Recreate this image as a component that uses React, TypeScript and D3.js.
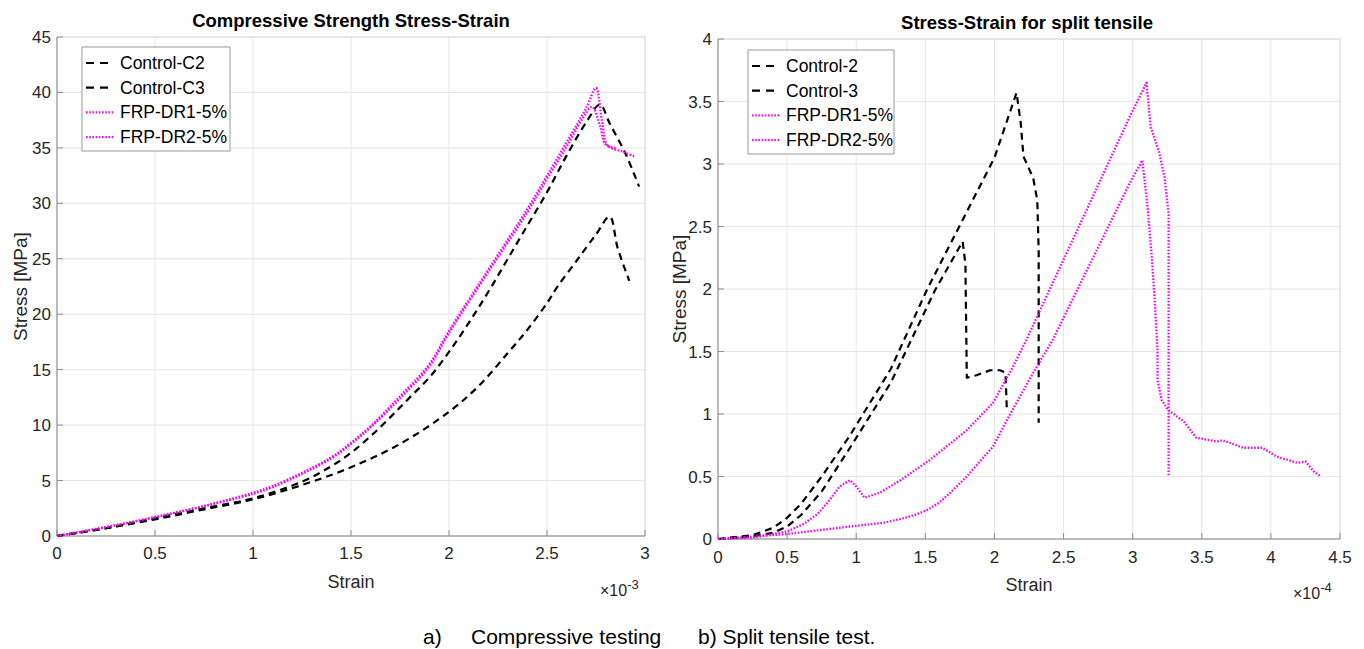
import React, { useRef, useEffect } from 'react';
import * as d3 from 'd3';

// strain (x1e-3), stress MPa
const controlC2: [number, number][] = [
  [0, 0], [0.25, 0.7], [0.5, 1.6], [0.75, 2.5], [1.0, 3.4], [1.25, 4.9], [1.4, 6.3], [1.5, 7.5],
  [1.6, 9.0], [1.7, 10.7], [1.8, 12.5], [1.9, 14.3], [2.0, 16.6], [2.1, 19.2], [2.2, 22.0],
  [2.3, 25.0], [2.4, 28.0], [2.5, 31.0], [2.6, 34.3], [2.7, 37.3], [2.77, 38.9], [2.82, 37.2],
  [2.9, 34.5], [2.97, 31.5]
];
const controlC3: [number, number][] = [
  [0, 0], [0.25, 0.7], [0.5, 1.5], [0.75, 2.4], [1.0, 3.3], [1.25, 4.6], [1.5, 6.2], [1.75, 8.3],
  [2.0, 11.2], [2.15, 13.5], [2.3, 16.5], [2.4, 18.6], [2.5, 21.0], [2.55, 22.4], [2.65, 24.8],
  [2.75, 27.2], [2.82, 28.8], [2.86, 26.0], [2.92, 23.0]
];
const frpDR1: [number, number][] = [
  [0, 0], [0.25, 0.8], [0.5, 1.7], [0.75, 2.7], [1.0, 3.9], [1.1, 4.5], [1.25, 5.7], [1.4, 7.1],
  [1.5, 8.4], [1.6, 9.9], [1.75, 12.6], [1.9, 15.5], [2.0, 18.5], [2.2, 24.0], [2.4, 29.5],
  [2.5, 32.5], [2.6, 35.5], [2.7, 38.6], [2.75, 40.4], [2.78, 37.5], [2.81, 35.2], [2.88, 34.7],
  [2.95, 34.2]
];
const frpDR2: [number, number][] = [
  [0, 0], [0.25, 0.8], [0.5, 1.7], [0.75, 2.7], [1.0, 3.8], [1.1, 4.4], [1.25, 5.6], [1.4, 7.0],
  [1.5, 8.3], [1.6, 9.8], [1.75, 12.4], [1.9, 15.3], [2.0, 18.3], [2.2, 23.8], [2.4, 29.2],
  [2.5, 32.2], [2.6, 35.1], [2.68, 37.6], [2.73, 38.7], [2.77, 37.0], [2.8, 35.3], [2.85, 35.0]
];

// strain (x1e-4), stress MPa
const control2: [number, number][] = [
  [0, 0], [0.25, 0.03], [0.4, 0.09], [0.5, 0.17], [0.6, 0.28], [0.75, 0.5], [0.95, 0.82],
  [1.25, 1.36], [1.51, 1.99], [1.69, 2.38], [2.0, 3.05], [2.16, 3.57], [2.19, 3.33], [2.21, 3.06],
  [2.28, 2.89], [2.31, 2.71], [2.32, 2.3], [2.32, 0.93]
];
const control3: [number, number][] = [
  [0, 0], [0.25, 0.02], [0.4, 0.05], [0.5, 0.1], [0.6, 0.19], [0.75, 0.38], [0.955, 0.73],
  [1.25, 1.25], [1.57, 1.99], [1.77, 2.38], [1.79, 2.2], [1.8, 1.29], [1.87, 1.31], [1.97, 1.35],
  [2.04, 1.35], [2.08, 1.33], [2.09, 1.02]
];
const frpDR1s: [number, number][] = [
  [0, 0], [0.25, 0.01], [0.5, 0.06], [0.62, 0.12], [0.72, 0.2], [0.8, 0.3], [0.88, 0.42],
  [0.955, 0.47], [1.0, 0.42], [1.06, 0.33], [1.17, 0.37], [1.32, 0.47], [1.53, 0.63], [1.8, 0.87],
  [1.99, 1.09], [2.13, 1.37], [2.23, 1.59], [2.33, 1.83], [2.98, 3.38], [3.1, 3.65], [3.13, 3.3],
  [3.19, 3.1], [3.23, 2.9], [3.26, 2.6], [3.26, 0.5]
];
const frpDR2s: [number, number][] = [
  [0, 0], [0.25, 0.02], [0.5, 0.04], [0.955, 0.1], [1.2, 0.13], [1.32, 0.16], [1.42, 0.19],
  [1.51, 0.23], [1.6, 0.29], [1.68, 0.37], [1.8, 0.5], [1.99, 0.74], [2.09, 0.95], [2.28, 1.33],
  [2.42, 1.59], [2.98, 2.85], [3.07, 3.03], [3.11, 2.63], [3.14, 2.23], [3.16, 1.9], [3.18, 1.5],
  [3.18, 1.27], [3.21, 1.11], [3.26, 1.03], [3.37, 0.94], [3.46, 0.81], [3.61, 0.78], [3.65, 0.79],
  [3.8, 0.73], [3.94, 0.73], [4.04, 0.66], [4.19, 0.61], [4.25, 0.62], [4.31, 0.54], [4.36, 0.5]
];

const leftXTicks = [0, 0.5, 1, 1.5, 2, 2.5, 3];
const leftYTicks = [0, 5, 10, 15, 20, 25, 30, 35, 40, 45];
const rightXTicks = [0, 0.5, 1, 1.5, 2, 2.5, 3, 3.5, 4, 4.5];
const rightYTicks = [0, 0.5, 1, 1.5, 2, 2.5, 3, 3.5, 4];
const leftNames = ['Control-C2', 'Control-C3', 'FRP-DR1-5%', 'FRP-DR2-5%'];
const rightNames = ['Control-2', 'Control-3', 'FRP-DR1-5%', 'FRP-DR2-5%'];

const FONT = '"Liberation Sans", Arial, sans-serif';
const TXT = '#262626';
const styles = [
  { color: '#000', dash: '7,5', width: 2.2 },
  { color: '#000', dash: '7,5', width: 2.2 },
  { color: '#ff00ff', dash: '1.6,1.6', width: 2.3 },
  { color: '#ff00ff', dash: '1.6,1.6', width: 2.3 }
];

function drawPanel(svg, opt) {
  const { x0, x1, y0, y1, xDomain, yDomain, xTicks, yTicks, series, names, title, titleX, titleY,
    legend, xLabelY, tickLabelY, expText, expX, expY, yLabelX, curve } = opt;
  const x = d3.scaleLinear().domain(xDomain).range([x0, x1]);
  const y = d3.scaleLinear().domain(yDomain).range([y0, y1]);
  const g = svg.append('g').style('font-family', FONT);

  // grid
  g.append('g').selectAll('line.gx').data(xTicks).enter().append('line')
    .attr('x1', d => x(d)).attr('x2', d => x(d)).attr('y1', y0).attr('y2', y1)
    .attr('stroke', '#e6e6e6').attr('stroke-width', 1);
  g.append('g').selectAll('line.gy').data(yTicks).enter().append('line')
    .attr('x1', x0).attr('x2', x1).attr('y1', d => y(d)).attr('y2', d => y(d))
    .attr('stroke', '#e6e6e6').attr('stroke-width', 1);

  // box
  g.append('rect').attr('x', x0).attr('y', y1).attr('width', x1 - x0).attr('height', y0 - y1)
    .attr('fill', 'none').attr('stroke', '#dcdcdc');
  g.append('line').attr('x1', x0).attr('x2', x1).attr('y1', y0).attr('y2', y0).attr('stroke', '#8c8c8c');
  g.append('line').attr('x1', x0).attr('x2', x0).attr('y1', y0).attr('y2', y1).attr('stroke', '#8c8c8c');

  // ticks
  g.append('g').selectAll('line').data(xTicks).enter().append('line')
    .attr('x1', d => x(d)).attr('x2', d => x(d)).attr('y1', y0).attr('y2', y0 - 6).attr('stroke', '#8c8c8c');
  g.append('g').selectAll('line').data(yTicks).enter().append('line')
    .attr('x1', x0).attr('x2', x0 + 6).attr('y1', d => y(d)).attr('y2', d => y(d)).attr('stroke', '#8c8c8c');

  g.append('g').selectAll('text').data(xTicks).enter().append('text')
    .attr('x', d => x(d)).attr('y', tickLabelY).attr('text-anchor', 'middle')
    .attr('font-size', 17).attr('fill', TXT).text(d => String(d));
  g.append('g').selectAll('text').data(yTicks).enter().append('text')
    .attr('x', x0 - 6).attr('y', d => y(d) + 6).attr('text-anchor', 'end')
    .attr('font-size', 17).attr('fill', TXT).text(d => String(d));

  // lines
  const line = d3.line<[number, number]>().x(d => x(d[0])).y(d => y(d[1])).curve(curve);
  series.forEach((s, i) => {
    g.append('path').datum(s).attr('d', line).attr('fill', 'none')
      .attr('stroke', styles[i].color).attr('stroke-width', styles[i].width)
      .attr('stroke-dasharray', styles[i].dash).attr('stroke-linejoin', 'round');
  });

  // titles and labels
  g.append('text').attr('x', titleX).attr('y', titleY).attr('text-anchor', 'middle')
    .attr('font-size', 18.5).attr('font-weight', 'bold').attr('fill', '#000').text(title);
  g.append('text').attr('x', (x0 + x1) / 2).attr('y', xLabelY).attr('text-anchor', 'middle')
    .attr('font-size', 18).attr('fill', TXT).text('Strain');
  g.append('text').attr('transform', `translate(${yLabelX},${(y0 + y1) / 2}) rotate(-90)`)
    .attr('text-anchor', 'middle').attr('font-size', 19).attr('fill', TXT).text('Stress [MPa]');
  const ex = g.append('text').attr('x', expX).attr('y', expY).attr('font-size', 16).attr('fill', TXT);
  ex.append('tspan').text('×10');
  ex.append('tspan').attr('dy', -7).attr('font-size', 13).text(expText);

  // legend
  const lg = g.append('g');
  lg.append('rect').attr('x', legend.x).attr('y', legend.y).attr('width', legend.w).attr('height', legend.h)
    .attr('fill', '#fff').attr('stroke', '#999');
  names.forEach((n, i) => {
    const cy = legend.y + 16 + i * 24.7;
    lg.append('line').attr('x1', legend.x + 4).attr('x2', legend.x + 32).attr('y1', cy).attr('y2', cy)
      .attr('stroke', styles[i].color).attr('stroke-width', styles[i].width)
      .attr('stroke-dasharray', i < 2 ? '8,6' : '1.6,1.6');
    lg.append('text').attr('x', legend.x + 38).attr('y', cy + 6).attr('font-size', 17.5)
      .attr('fill', '#000').text(n);
  });
}

const App = () => {
  const ref = useRef<SVGSVGElement>(null);
  useEffect(() => {
    const svg = d3.select(ref.current);
    svg.selectAll('*').remove();
    svg.append('rect').attr('width', 1364).attr('height', 649).attr('fill', '#fff');

    drawPanel(svg, {
      x0: 57, x1: 645, y0: 536, y1: 37, xDomain: [0, 3], yDomain: [0, 45],
      xTicks: leftXTicks, yTicks: leftYTicks, series: [controlC2, controlC3, frpDR1, frpDR2],
      names: leftNames, title: 'Compressive Strength Stress-Strain', titleX: 351, titleY: 27,
      legend: { x: 82, y: 47, w: 148, h: 104 }, xLabelY: 588, tickLabelY: 559,
      expText: '-3', expX: 600, expY: 596, yLabelX: 27, curve: d3.curveCatmullRom.alpha(0.5)
    });
    drawPanel(svg, {
      x0: 718, x1: 1340, y0: 539, y1: 39, xDomain: [0, 4.5], yDomain: [0, 4],
      xTicks: rightXTicks, yTicks: rightYTicks, series: [control2, control3, frpDR1s, frpDR2s],
      names: rightNames, title: 'Stress-Strain for split tensile', titleX: 1027, titleY: 29,
      legend: { x: 748, y: 50, w: 146, h: 104 }, xLabelY: 591, tickLabelY: 563,
      expText: '-4', expX: 1293, expY: 599, yLabelX: 686, curve: d3.curveLinear
    });

    const cap = svg.append('g').style('font-family', FONT).attr('font-size', 21).attr('fill', '#000');
    cap.append('text').attr('x', 423).attr('y', 644).text('a)');
    cap.append('text').attr('x', 471).attr('y', 644).text('Compressive testing');
    cap.append('text').attr('x', 698).attr('y', 644).text('b) Split tensile test.');
  }, []);

  return (
    <svg ref={ref} width={1364} height={649}
      style={{ position: 'absolute', left: 0, top: 0, display: 'block' }} />
  );
};

export default App;
